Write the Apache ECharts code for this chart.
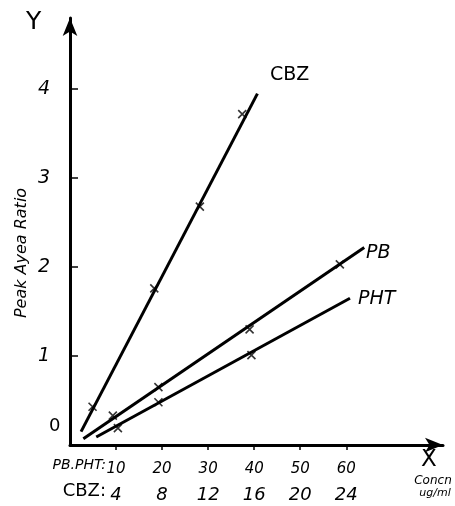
<!DOCTYPE html>
<html>
<head>
<meta charset="utf-8">
<script src="https://cdn.jsdelivr.net/npm/echarts@6/dist/echarts.min.js"></script>
<style>html,body{margin:0;padding:0;background:#fff}#c{width:455px;height:506px}</style>
</head>
<body>
<div id="c"></div>
<script>
// X positions are on the PB/PHT concentration scale (ug/ml); CBZ scale = 0.4 x
const pbTicks = [10, 20, 30, 40, 50, 60];
const cbzTicks = [4, 8, 12, 16, 20, 24];
const yTicks = [1, 2, 3, 4];

// fitted lines (start / end points)
const cbzLine = [[2.4, 0.15], [40.7, 3.95]];
const pbLine = [[2.9, 0.07], [63.9, 2.22]];
const phtLine = [[5.7, 0.09], [60.8, 1.65]];

// measured points
const cbzPoints = [[4.9, 0.43], [18.3, 1.76], [28.2, 2.68], [37.4, 3.72]];
const pbPoints = [[9.3, 0.33], [19.2, 0.65], [39.0, 1.30], [58.6, 2.03]];
const phtPoints = [[10.4, 0.19], [19.2, 0.48], [39.4, 1.01]];

const font = '"DejaVu Sans", sans-serif';
const chart = echarts.init(document.getElementById('c'));
const cross = 'path://M0,0L10,10M10,0L0,10';
function lineSeries(d) {
  return { type: 'line', data: d, symbol: 'none', lineStyle: { color: '#000', width: 3 }, silent: true, z: 3 };
}
function markSeries(d) {
  return { type: 'scatter', data: d, symbol: cross, symbolSize: 8,
    itemStyle: { color: 'none', borderColor: '#000', borderWidth: 1.6 }, z: 4, silent: true };
}
chart.setOption({
  animation: false,
  backgroundColor: '#fff',
  grid: { left: 70, right: 12, top: 18, bottom: 61 },
  xAxis: {
    type: 'value', min: 0, max: 81,
    splitLine: { show: false },
    axisLine: { lineStyle: { color: '#000', width: 3 }, symbol: ['none', 'arrow'], symbolSize: [11, 18] },
    axisTick: { customValues: pbTicks, length: 5, inside: false, lineStyle: { color: '#000', width: 1.5 } },
    axisLabel: {
      customValues: pbTicks, margin: 12, color: '#000', fontFamily: font,
      formatter: v => '{a|' + v + '}\n{b|' + cbzTicks[pbTicks.indexOf(v)] + '}',
      rich: {
        a: { fontSize: 15, fontStyle: 'italic', fontFamily: font, color: '#000', lineHeight: 24 },
        b: { fontSize: 18, fontStyle: 'italic', fontFamily: font, color: '#000', lineHeight: 28 }
      }
    }
  },
  yAxis: {
    type: 'value', min: 0, max: 4.8,
    splitLine: { show: false },
    axisLine: { lineStyle: { color: '#000', width: 3 }, symbol: ['none', 'arrow'], symbolSize: [11, 18] },
    axisTick: { customValues: yTicks, length: 8, inside: true, lineStyle: { color: '#000', width: 1.5 } },
    axisLabel: { customValues: yTicks, margin: 20, color: '#000', fontFamily: font, fontStyle: 'italic', fontSize: 19 }
  },
  series: [
    lineSeries(cbzLine), lineSeries(pbLine), lineSeries(phtLine),
    markSeries(cbzPoints), markSeries(pbPoints), markSeries(phtPoints)
  ],
  graphic: [
    { type: 'text', left: 26, top: 10, style: { text: 'Y', font: '25px ' + font, fill: '#000' } },
    { type: 'text', x: 22, y: 253, rotation: Math.PI / 2,
      style: { text: 'Peak Ayea Ratio', font: 'italic 16px ' + font, fill: '#000', align: 'center', verticalAlign: 'middle' } },
    { type: 'text', x: 49, y: 417, style: { text: '0', font: '18px ' + font, fill: '#000' } },
    { type: 'text', x: 106, y: 458, style: { text: 'PB.PHT:', font: 'italic 14px ' + font, fill: '#000', align: 'right' } },
    { type: 'text', x: 106, y: 482, style: { text: 'CBZ:', font: '18px ' + font, fill: '#000', align: 'right' } },
    { type: 'text', x: 421, y: 449, style: { text: 'X', font: '23px ' + font, fill: '#000' } },
    { type: 'text', x: 433, y: 475, style: { text: 'Concn', font: 'italic 12px ' + font, fill: '#000', align: 'center' } },
    { type: 'text', x: 435, y: 488, style: { text: 'ug/ml', font: 'italic 11px ' + font, fill: '#000', align: 'center' } },
    { type: 'text', x: 270, y: 66, style: { text: 'CBZ', font: '19px ' + font, fill: '#000' } },
    { type: 'text', x: 366, y: 244, style: { text: 'PB', font: 'italic 19px ' + font, fill: '#000' } },
    { type: 'text', x: 358, y: 290, style: { text: 'PHT', font: 'italic 19px ' + font, fill: '#000' } }
  ]
});
</script>
</body>
</html>
